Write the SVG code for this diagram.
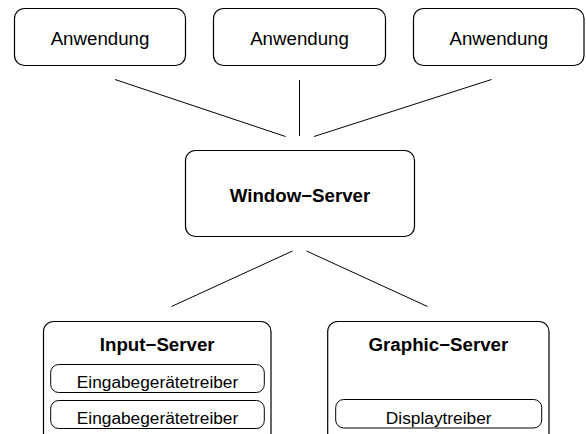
<svg xmlns="http://www.w3.org/2000/svg" width="586" height="434" viewBox="0 0 586 434">
<style>
.box{fill:#fff;stroke:#000;stroke-width:1.2}
.sub{fill:#fff;stroke:#000;stroke-width:1}
.t{font-family:"Liberation Sans",Arial,sans-serif;font-size:18.7px;text-anchor:middle;fill:#000}
.b{font-weight:bold}
.s{font-size:17.3px}
.c line{stroke:#000;stroke-width:1}
</style>
<rect width="586" height="434" fill="#fff"/>
<g class="c" id="connectors">
<line x1="115" y1="79.5" x2="285.5" y2="136.5"/>
<line x1="299.5" y1="80" x2="299.5" y2="136"/>
<line x1="491.5" y1="79.5" x2="314" y2="136.5"/>
<line x1="292.5" y1="251" x2="171.5" y2="306.5"/>
<line x1="306.5" y1="251" x2="427.5" y2="306.5"/>
</g>
<g id="app1"><rect class="box" x="14.5" y="8.5" width="171" height="57" rx="10"/><text class="t" x="100" y="44.7">Anwendung</text></g>
<g id="app2"><rect class="box" x="213.5" y="8.5" width="172" height="57" rx="10"/><text class="t" x="299.5" y="44.7">Anwendung</text></g>
<g id="app3"><rect class="box" x="413.5" y="8.5" width="170.5" height="57" rx="10"/><text class="t" x="498.8" y="44.7">Anwendung</text></g>
<g id="window-server"><rect class="box" x="185.5" y="150.5" width="229" height="86" rx="10"/><text class="t b" x="300" y="201.5">Window−Server</text></g>
<g id="input-server"><rect class="box" x="43.5" y="321.5" width="227.5" height="125" rx="10"/><text class="t b" x="157.2" y="351">Input−Server</text>
<g id="input-driver1"><rect class="sub" x="50.7" y="364.5" width="213.6" height="28" rx="8"/><text class="t s" x="157.5" y="388">Eingabegerätetreiber</text></g>
<g id="input-driver2"><rect class="sub" x="50.7" y="400.5" width="213.6" height="28" rx="8"/><text class="t s" x="157.5" y="424">Eingabegerätetreiber</text></g>
</g>
<g id="graphic-server"><rect class="box" x="327.7" y="321.5" width="221.3" height="125" rx="10"/><text class="t b" x="438.4" y="351">Graphic−Server</text>
<g id="display-driver"><rect class="sub" x="335.7" y="399.5" width="206" height="28.5" rx="8"/><text class="t s" x="438.7" y="423.5">Displaytreiber</text></g>
</g>
</svg>
